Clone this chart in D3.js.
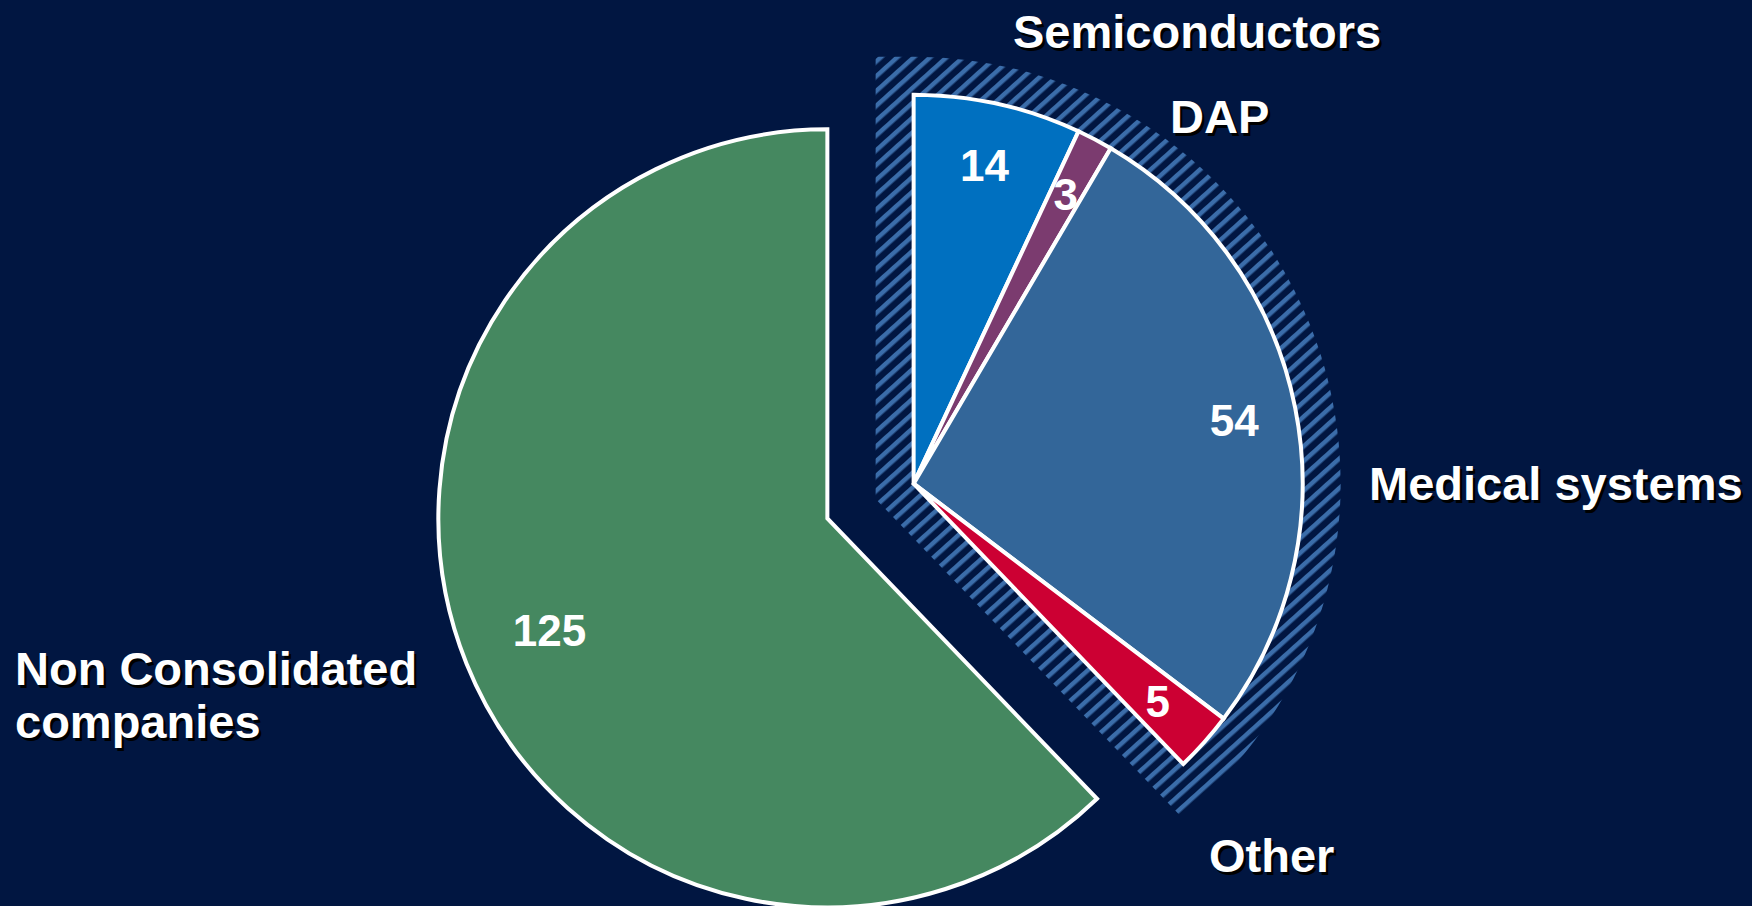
<!DOCTYPE html>
<html>
<head>
<meta charset="utf-8">
<script src="https://cdn.jsdelivr.net/npm/d3@7"></script>
<style>
  html, body { margin: 0; padding: 0; background: #011641; }
  svg { display: block; }
  text { font-family: "Liberation Sans", Arial, Helvetica, sans-serif; font-weight: bold; }
</style>
</head>
<body>
<svg id="chart" width="1752" height="906"></svg>
<script>
// ---- data ----
const categories = ["Semiconductors", "DAP", "Medical systems", "Other", "Non Consolidated companies"];
const values = [14, 3, 54, 5, 125];
// segments pulled out together inside the hatched wedge
const groupedCategories = ["Semiconductors", "DAP", "Medical systems", "Other"];
const colors = ["#0070C0", "#7B3B6F", "#336699", "#CC0033", "#458860"];
// category label lines (multi-line where wrapped)
const labelLines = [["Semiconductors"], ["DAP"], ["Medical systems"], ["Other"], ["Non Consolidated", "companies"]];

// ---- layout ----
const W = 1752, H = 906;
const R = 389;                  // pie radius
const center = [870.5, 501];    // pie centre before exploding
const explodeDist = 46.5;       // how far both halves are pulled apart
const hatchWidth = 38;          // width of the hatched band around the grouped wedge
const bg = "#011641";

// label placement (x, first baseline, anchor)
const labelPos = {
  "Semiconductors": { x: 1013, y: 48, anchor: "start" },
  "DAP": { x: 1170, y: 133, anchor: "start" },
  "Medical systems": { x: 1369, y: 500, anchor: "start" },
  "Other": { x: 1209, y: 872, anchor: "start" },
  "Non Consolidated companies": { x: 15, y: 685, anchor: "start" }
};

const svg = d3.select("#chart");
svg.append("rect").attr("width", W).attr("height", H).attr("fill", bg);

// diagonal hatch pattern
const defs = svg.append("defs");
const pat = defs.append("pattern")
  .attr("id", "hatch")
  .attr("patternUnits", "userSpaceOnUse")
  .attr("width", 11).attr("height", 11)
  .attr("patternTransform", "rotate(-42)");
pat.append("rect").attr("width", 11).attr("height", 11).attr("fill", bg);
pat.append("rect").attr("width", 11).attr("height", 4.5).attr("fill", "#3B6DAA");

const data = categories.map((c, i) => ({ category: c, value: values[i], color: colors[i], lines: labelLines[i] }));
const pie = d3.pie().sort(null).value(d => d.value).startAngle(0).endAngle(2 * Math.PI);
const arcs = pie(data);

const arc = d3.arc().innerRadius(0).outerRadius(R);
const inGroup = a => groupedCategories.includes(a.data.category);
const groupArcs = arcs.filter(inGroup);
const restArcs = arcs.filter(a => !inGroup(a));

function offsetFor(a0, a1) {
  const m = (a0 + a1) / 2;
  return [center[0] + Math.sin(m) * explodeDist, center[1] - Math.cos(m) * explodeDist];
}

// ---- grouped (exploded) wedge with hatched surround ----
const gStart = d3.min(groupArcs, a => a.startAngle);
const gEnd = d3.max(groupArcs, a => a.endAngle);
const gOff = offsetFor(gStart, gEnd);
const gGroup = svg.append("g").attr("transform", `translate(${gOff[0]},${gOff[1]})`);

gGroup.append("path")
  .attr("d", arc({ startAngle: gStart, endAngle: gEnd }))
  .attr("fill", "url(#hatch)")
  .attr("stroke", "url(#hatch)")
  .attr("stroke-width", hatchWidth * 2)
  .attr("stroke-linejoin", "miter")
  .attr("stroke-miterlimit", 10);

gGroup.selectAll("path.slice")
  .data(groupArcs)
  .join("path")
  .attr("class", "slice")
  .attr("d", arc)
  .attr("fill", d => d.data.color)
  .attr("stroke", "#fff")
  .attr("stroke-width", 4)
  .attr("stroke-linejoin", "miter");

const valueArcGroup = d3.arc().innerRadius(R * 0.84).outerRadius(R * 0.84);
gGroup.selectAll("text.value")
  .data(groupArcs)
  .join("text")
  .attr("class", "value")
  .attr("transform", d => `translate(${valueArcGroup.centroid(d)})`)
  .attr("text-anchor", "middle")
  .attr("dy", "0.36em")
  .attr("font-size", 44)
  .attr("fill", "#fff")
  .text(d => d.data.value);

// ---- remaining slice ----
restArcs.forEach(a => {
  const off = offsetFor(a.startAngle, a.endAngle);
  const g = svg.append("g").attr("transform", `translate(${off[0]},${off[1]})`);
  g.append("path")
    .attr("d", arc(a))
    .attr("fill", a.data.color)
    .attr("stroke", "#fff")
    .attr("stroke-width", 4)
    .attr("stroke-linejoin", "miter");
  const va = d3.arc().innerRadius(R * 0.77).outerRadius(R * 0.77);
  g.append("text")
    .attr("transform", `translate(${va.centroid(a)})`)
    .attr("text-anchor", "middle")
    .attr("dy", "0.36em")
    .attr("font-size", 44)
    .attr("fill", "#fff")
    .text(a.data.value);
});

// ---- category labels with drop shadow ----
const labels = svg.append("g");
data.forEach(d => {
  const p = labelPos[d.category];
  [{ dx: 2.5, fill: "#000" }, { dx: 0, fill: "#fff" }].forEach(layer => {
    const t = labels.append("text")
      .attr("x", p.x + layer.dx)
      .attr("y", p.y + layer.dx)
      .attr("text-anchor", p.anchor)
      .attr("font-size", 47)
      .attr("fill", layer.fill);
    d.lines.forEach((line, i) => {
      t.append("tspan")
        .attr("x", p.x + layer.dx)
        .attr("dy", i === 0 ? 0 : 53)
        .text(line);
    });
  });
});
</script>
</body>
</html>
